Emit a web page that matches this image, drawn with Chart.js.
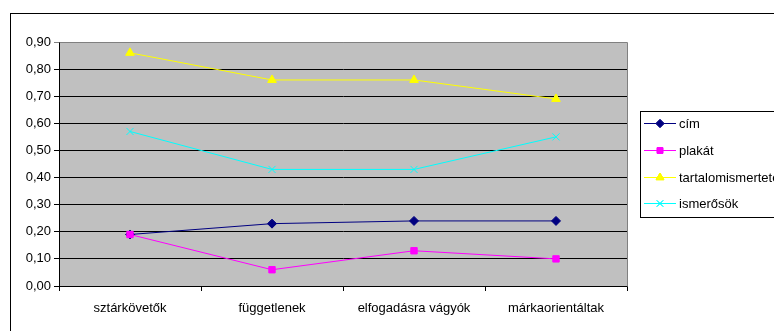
<!DOCTYPE html>
<html>
<head>
<meta charset="utf-8">
<script src="https://cdn.jsdelivr.net/npm/chart.js@4.4.0/dist/chart.umd.min.js"></script>
<style>
  html, body { margin: 0; padding: 0; background: #fff; }
  #wrap { width: 774px; height: 331px; }
</style>
</head>
<body>
<div id="wrap"><canvas id="c" width="774" height="331"></canvas></div>
<script>
// Category labels (segment groups)
const categories = ['sztárkövetők', 'függetlenek', 'elfogadásra vágyók', 'márkaorientáltak'];

// Series values
const cim = [0.19, 0.23, 0.24, 0.24];
const plakat = [0.19, 0.06, 0.13, 0.10];
const tartalomismertető = [0.86, 0.76, 0.76, 0.69];
const ismerosok = [0.57, 0.43, 0.43, 0.55];

// Series names
const seriesNames = ['cím', 'plakát', 'tartalomismertető', 'ismerősök'];

// Y axis range
const yMin = 0;
const yMax = 0.9;
const yStep = 0.1;

const FONT = "'Liberation Sans', Arial, sans-serif";

// White page with the outer frame of the chart object
const framePlugin = {
  id: 'frame',
  beforeDraw(chart) {
    const ctx = chart.ctx;
    ctx.save();
    ctx.fillStyle = '#fff';
    ctx.fillRect(0, 0, chart.width, chart.height);
    ctx.strokeStyle = '#000';
    ctx.lineWidth = 1;
    ctx.strokeRect(10.5, 13.5, 900, 400);
    ctx.restore();
  }
};

// Grey plot-area fill and its border
const plotAreaPlugin = {
  id: 'plotArea',
  beforeDatasetsDraw() {},
  beforeDraw(chart) {
    const a = chart.chartArea;
    const ctx = chart.ctx;
    ctx.save();
    ctx.fillStyle = '#C0C0C0';
    ctx.fillRect(a.left, a.top, a.right - a.left, a.bottom - a.top);
    ctx.restore();
  },
  afterDraw(chart) {
    const a = chart.chartArea;
    const ctx = chart.ctx;
    ctx.save();
    ctx.strokeStyle = '#808080';
    ctx.lineWidth = 1;
    ctx.beginPath();
    ctx.moveTo(Math.round(a.left) + 0.5, Math.round(a.top) + 0.5);
    ctx.lineTo(Math.round(a.right) + 0.5, Math.round(a.top) + 0.5);
    ctx.lineTo(Math.round(a.right) + 0.5, Math.round(a.bottom) + 0.5);
    ctx.stroke();
    ctx.restore();
  }
};

// Boxed legend to the right with line + marker samples
const boxLegendPlugin = {
  id: 'boxLegend',
  afterDraw(chart) {
    const ctx = chart.ctx;
    const x0 = 640, y0 = 111, h = 106;
    ctx.save();
    ctx.fillStyle = '#fff';
    ctx.fillRect(x0, y0, 200, h);
    ctx.strokeStyle = '#000';
    ctx.lineWidth = 1;
    ctx.strokeRect(x0 + 0.5, y0 + 0.5, 200, h);
    const rows = [123, 150, 177, 203];
    chart.data.datasets.forEach((ds, i) => {
      const y = rows[i];
      ctx.strokeStyle = ds.borderColor;
      ctx.lineWidth = 1;
      ctx.beginPath();
      ctx.moveTo(644, y + 0.5);
      ctx.lineTo(676, y + 0.5);
      ctx.stroke();
      Chart.helpers.drawPoint(ctx, {
        pointStyle: ds.pointStyle,
        radius: ds.pointRadius - 0.5,
        rotation: 0,
        borderWidth: 1
      }, 660, y + 0.5);
      ctx.fillStyle = ds.pointBackgroundColor;
      ctx.strokeStyle = ds.pointBorderColor;
      Chart.helpers.drawPoint(ctx, {
        pointStyle: ds.pointStyle,
        radius: ds.pointRadius - 0.5,
        rotation: 0,
        borderWidth: 1
      }, 660, y + 0.5);
      ctx.fillStyle = '#000';
      ctx.font = '13px ' + FONT;
      ctx.textBaseline = 'middle';
      ctx.textAlign = 'left';
      ctx.fillText(ds.label, 679, y + 1);
    });
    ctx.restore();
  }
};

function series(label, data, color, style, radius, order) {
  return {
    label, data,
    borderColor: color,
    backgroundColor: color,
    pointBackgroundColor: color,
    pointBorderColor: color,
    pointStyle: style,
    pointRadius: radius,
    pointHoverRadius: radius,
    pointBorderWidth: 1,
    borderWidth: 1,
    tension: 0,
    order
  };
}

new Chart(document.getElementById('c'), {
  type: 'line',
  data: {
    labels: categories,
    datasets: [
      series(seriesNames[0], cim, '#000080', 'rectRot', 4.5, 4),
      series(seriesNames[1], plakat, '#FF00FF', 'rect', 4.5, 3),
      series(seriesNames[2], tartalomismertető, '#FFFF00', 'triangle', 5, 2),
      series(seriesNames[3], ismerosok, '#00FFFF', 'crossRot', 5, 1)
    ]
  },
  options: {
    responsive: false,
    animation: false,
    devicePixelRatio: 1,
    layout: { padding: { left: 0, right: 147, top: 42, bottom: 0 } },
    plugins: { legend: { display: false }, tooltip: { enabled: false } },
    scales: {
      x: {
        offset: true,
        grid: {
          offset: true,
          drawOnChartArea: false,
          drawTicks: true,
          tickLength: 5,
          color: '#000'
        },
        border: { color: '#000', width: 1 },
        ticks: {
          color: '#000',
          font: { family: FONT, size: 13 },
          padding: 10,
          maxRotation: 0,
          autoSkip: false
        },
        afterFit(scale) { scale.height = 45; }
      },
      y: {
        min: yMin,
        max: yMax,
        grid: {
          color: (c) => (c.tick && Math.abs(c.tick.value - yMax) < 1e-9) ? '#808080' : '#000',
          drawTicks: true,
          tickLength: 5,
          lineWidth: 1
        },
        border: { color: '#000', width: 1 },
        ticks: {
          stepSize: yStep,
          color: '#000',
          padding: 3,
          font: { family: FONT, size: 13 },
          callback: (v) => v.toFixed(2).replace('.', ',')
        },
        afterFit(scale) { scale.width = 59; }
      }
    }
  },
  plugins: [framePlugin, plotAreaPlugin, boxLegendPlugin]
});
</script>
</body>
</html>
